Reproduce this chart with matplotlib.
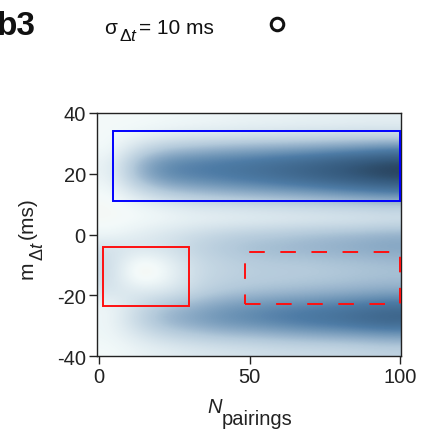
import numpy as np
import matplotlib
matplotlib.use("Agg")
import matplotlib.pyplot as plt
from matplotlib.colors import LinearSegmentedColormap
from matplotlib.patches import Rectangle

plt.rcParams['font.family'] = ['Liberation Sans', 'DejaVu Sans']
plt.rcParams['mathtext.fontset'] = 'custom'
plt.rcParams['mathtext.rm'] = 'Liberation Sans'
plt.rcParams['mathtext.it'] = 'Liberation Sans:italic'
plt.rcParams['mathtext.bf'] = 'Liberation Sans:bold'
plt.rcParams['axes.unicode_minus'] = False

# Data
n_pairings = [0, 10, 20, 30, 40, 50, 60, 70, 80, 90, 100]
m_dt = [40, 35, 30, 25, 20, 15, 10, 5, 0, -5, -10, -15, -20, -25, -30, -35, -40]
density = [
    [0.08, 0.08, 0.09, 0.10, 0.11, 0.12, 0.12, 0.13, 0.13, 0.14, 0.14],
    [0.08, 0.10, 0.13, 0.15, 0.16, 0.18, 0.19, 0.20, 0.21, 0.22, 0.22],
    [0.08, 0.24, 0.36, 0.40, 0.44, 0.46, 0.48, 0.50, 0.53, 0.56, 0.60],
    [0.12, 0.45, 0.60, 0.64, 0.67, 0.70, 0.74, 0.78, 0.83, 0.88, 0.93],
    [0.12, 0.45, 0.60, 0.64, 0.67, 0.71, 0.75, 0.80, 0.85, 0.90, 0.95],
    [0.08, 0.25, 0.38, 0.43, 0.47, 0.50, 0.53, 0.56, 0.60, 0.64, 0.68],
    [0.06, 0.10, 0.15, 0.20, 0.22, 0.24, 0.26, 0.28, 0.30, 0.32, 0.34],
    [0.06, 0.08, 0.10, 0.12, 0.13, 0.14, 0.15, 0.16, 0.17, 0.18, 0.20],
    [0.10, 0.15, 0.20, 0.25, 0.30, 0.33, 0.35, 0.38, 0.40, 0.42, 0.45],
    [0.22, 0.20, 0.22, 0.30, 0.35, 0.40, 0.42, 0.44, 0.46, 0.48, 0.50],
    [0.25, 0.02, 0.12, 0.25, 0.30, 0.33, 0.35, 0.35, 0.37, 0.38, 0.40],
    [0.25, 0.00, 0.10, 0.25, 0.30, 0.32, 0.33, 0.34, 0.35, 0.37, 0.38],
    [0.20, 0.18, 0.18, 0.28, 0.35, 0.38, 0.40, 0.42, 0.44, 0.46, 0.48],
    [0.10, 0.25, 0.38, 0.45, 0.52, 0.56, 0.60, 0.62, 0.65, 0.68, 0.72],
    [0.10, 0.30, 0.45, 0.52, 0.58, 0.62, 0.66, 0.70, 0.73, 0.78, 0.82],
    [0.10, 0.20, 0.30, 0.35, 0.40, 0.42, 0.45, 0.48, 0.50, 0.52, 0.55],
    [0.08, 0.12, 0.15, 0.18, 0.20, 0.22, 0.24, 0.25, 0.26, 0.28, 0.30],
]
x_ticks = [0, 50, 100]
y_ticks = [-40, -20, 0, 20, 40]
blue_box = (4.5, 11, 100, 34)      # x0, y0, x1, y1
red_box = (1.3, -23.6, 29.8, -4.1)
red_dashed_box = (48.4, -22.8, 100, -5.8)

cmap = LinearSegmentedColormap.from_list(
    'bl', [(0.0, '#fbf4ec'), (0.08, '#f3fafa'), (0.35, '#b4cadb'),
           (0.65, '#4e7ca6'), (0.85, '#355a7d'), (1.0, '#22364b')])

W, H = 431, 435
fig = plt.figure(figsize=(W / 100, H / 100), dpi=100)
ax = fig.add_axes([0.225, 0.179, 0.705, 0.559])

arr = np.array(density)
ax.imshow(arr, cmap=cmap, vmin=0, vmax=1, aspect='auto', origin='upper',
          extent=[n_pairings[0] - 0.5, n_pairings[-1] + 0.5, m_dt[-1], m_dt[0]],
          interpolation='bicubic', zorder=0)

def box(b, **kw):
    x0, y0, x1, y1 = b
    r = Rectangle((x0, y0), x1 - x0, y1 - y0, fill=False, **kw)
    ax.add_patch(r)

box(blue_box, edgecolor='#0000ff', lw=1.4, zorder=3)
box(red_box, edgecolor='#ff1010', lw=1.4, zorder=3)
box(red_dashed_box, edgecolor='#ff1010', lw=1.4, linestyle=(0, (8, 8)), zorder=3)

ax.set_xlim(-0.7, 100.3)
ax.set_ylim(-40, 40)
ax.set_xticks(x_ticks)
ax.set_yticks(y_ticks)
ax.tick_params(direction='out', length=6, width=1, labelsize=14.5,
               colors='#222222', pad=2)
for s in ax.spines.values():
    s.set_linewidth(1.0)
    s.set_color('#222222')

def px(x, y):
    return x / W, 1 - y / H

TC = '#222222'
# x label: N_pairings
fig.text(*px(207, 413), 'N', fontsize=14.5, style='italic', color=TC,
         ha='left', va='baseline')
fig.text(*px(222, 425), 'pairings', fontsize=14.5, color=TC,
         ha='left', va='baseline')

# y label: m_{Δt} (ms), rotated
fig.text(*px(33, 279), 'm', fontsize=15, color=TC, rotation=90,
         rotation_mode='anchor', ha='left', va='baseline')
fig.text(*px(43, 261), r'$\mathrm{\Delta}\mathit{t}$', fontsize=13, color=TC,
         rotation=90, rotation_mode='anchor', ha='left', va='baseline')
fig.text(*px(33, 239), '(ms)', fontsize=15, color=TC, rotation=90,
         rotation_mode='anchor', ha='left', va='baseline')

# panel label and legend-like header
fig.text(*px(36, 35), 'b3', fontsize=24, fontweight='bold', color='#111111',
         ha='right', va='baseline')
fig.text(*px(104, 34), 'σ', fontsize=15, color='#111111', ha='left', va='baseline')
fig.text(*px(119, 41), r'$\mathrm{\Delta}\mathit{t}$', fontsize=12.5,
         color='#111111', ha='left', va='baseline')
fig.text(*px(139, 34), '= 10 ms', fontsize=15, color='#111111',
         ha='left', va='baseline')
fig.add_artist(plt.Line2D([277 / W], [1 - 25 / H], marker='o', markersize=9,
                          markerfacecolor='white', markeredgecolor='#111111',
                          markeredgewidth=2.2, transform=fig.transFigure))

fig.savefig('out.png', dpi=100)
